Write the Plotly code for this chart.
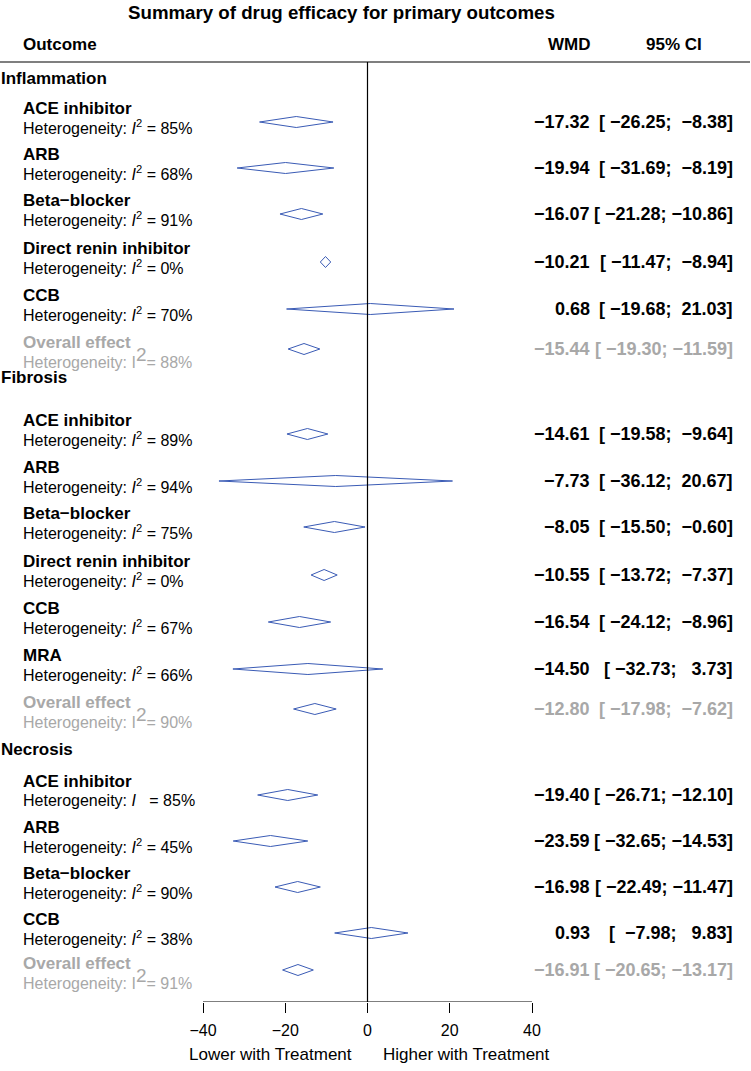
import plotly.graph_objects as go

# data
groups = ["Inflammation", "Fibrosis", "Necrosis"]
treatments = ["ACE inhibitor", "ARB", "Beta\u2212blocker", "Direct renin inhibitor", "CCB", "Overall effect",
              "ACE inhibitor", "ARB", "Beta\u2212blocker", "Direct renin inhibitor", "CCB", "MRA", "Overall effect",
              "ACE inhibitor", "ARB", "Beta\u2212blocker", "CCB", "Overall effect"]
is_overall = [False, False, False, False, False, True,
              False, False, False, False, False, False, True,
              False, False, False, False, True]
wmd = [-17.32, -19.94, -16.07, -10.21, 0.68, -15.44,
       -14.61, -7.73, -8.05, -10.55, -16.54, -14.50, -12.80,
       -19.40, -23.59, -16.98, 0.93, -16.91]
ci_lower = [-26.25, -31.69, -21.28, -11.47, -19.68, -19.30,
            -19.58, -36.12, -15.50, -13.72, -24.12, -32.73, -17.98,
            -26.71, -32.65, -22.49, -7.98, -20.65]
ci_upper = [-8.38, -8.19, -10.86, -8.94, 21.03, -11.59,
            -9.64, 20.67, -0.60, -7.37, -8.96, 3.73, -7.62,
            -12.10, -14.53, -11.47, 9.83, -13.17]
i2 = [85, 68, 91, 0, 70, 88,
      89, 94, 75, 0, 67, 66, 90,
      85, 45, 90, 38, 91]
x_ticks = [-40, -20, 0, 20, 40]

# layout (pixel rows of the page)
W, H = 751, 1071
X0_PX, X1_PX = 203, 532      # where -40 and 40 sit
AXIS_PX = 1002
group_y = [78, 377, 749]
row_y = [122, 168, 214, 262, 309, 349,
         434, 481, 527, 575, 622, 669, 709,
         795, 841, 887, 933, 970]
HALF_H = 5.5

FONT = "Liberation Sans"
BLUE = "#3a5bb5"
GREY = "#a8a8a8"
BLACK = "#000000"

# x range spanning the whole page width, so -40..40 land on X0_PX..X1_PX
unit = (X1_PX - X0_PX) / 80.0
x_range = [-40 - X0_PX / unit, 40 + (W - X1_PX) / unit]


def px(p):
    return p / W


def num(v):
    return f"{v:.2f}".replace("-", "\u2212")


def ci_text(lo, hi):
    s = "[" + f"{lo:.2f}".rjust(7) + "; " + f"{hi:.2f}".rjust(6) + "]"
    return s.replace("-", "\u2212").replace(" ", "\u00a0")


fig = go.Figure()

# diamonds
xs, ys = [], []
for est, lo, hi, y in zip(wmd, ci_lower, ci_upper, row_y):
    xs += [lo, est, hi, est, lo, None]
    ys += [y, y - HALF_H, y, y + HALF_H, y, None]
fig.add_trace(go.Scatter(x=xs, y=ys, mode="lines", line=dict(color=BLUE, width=1),
                         hoverinfo="skip", showlegend=False))

annotations = []


def text(x, y, s, size, color=BLACK, anchor="left", bold=False, yref="y"):
    if bold:
        s = "<b>" + s + "</b>"
    annotations.append(dict(x=x, y=y, xref="paper", yref=yref, text=s, showarrow=False,
                            xanchor=anchor, yanchor="middle", borderpad=0,
                            font=dict(family=FONT, size=size, color=color)))


text(px(341), 12, "Summary of drug efficacy for primary outcomes", 18.7, anchor="center", bold=True)
text(px(22), 44, "Outcome", 17, bold=True)
text(px(569), 44, "WMD", 17, anchor="center", bold=True)
text(px(674), 44, "95% CI", 17, anchor="center", bold=True)

for g, y in zip(groups, group_y):
    text(px(0), y, g, 17, bold=True)

for k in range(len(treatments)):
    y = row_y[k]
    col = GREY if is_overall[k] else BLACK
    if is_overall[k]:
        # summary rows sit a little lower relative to their diamond
        text(px(22), y - 7, treatments[k], 17, color=col, bold=True)
        het = f"Heterogeneity: I<sup><span style='font-size:19px'>2</span></sup>= {i2[k]}%"
        text(px(22), y + 8, het, 16, color=col)
    else:
        text(px(22), y - 14, treatments[k], 17, color=col, bold=True)
        if k == 13:
            het = f"Heterogeneity: <i>I</i>\u00a0\u00a0\u00a0= {i2[k]}%"
        else:
            het = f"Heterogeneity: <i>I</i><sup>2</sup> = {i2[k]}%"
        text(px(22), y + 5, het, 16, color=col)
    text(px(591), y, num(wmd[k]), 18, color=col, anchor="right", bold=True)
    text(px(734), y, ci_text(ci_lower[k], ci_upper[k]), 18, color=col, anchor="right", bold=True)

text(px(353), 1 - 1054 / AXIS_PX, "Lower with Treatment", 17, anchor="right", yref="paper")
text(px(382), 1 - 1054 / AXIS_PX, "Higher with Treatment", 17, anchor="left", yref="paper")

shapes = [
    dict(type="line", xref="paper", yref="y", x0=0, x1=px(750), y0=62, y1=62,
         line=dict(color=BLACK, width=1.2)),
    dict(type="line", xref="x", yref="y", x0=0, x1=0, y0=62, y1=AXIS_PX,
         line=dict(color=BLACK, width=1.2)),
    # axis line only across the tick span, as in R
    dict(type="line", xref="x", yref="y", x0=x_ticks[0], x1=x_ticks[-1], y0=AXIS_PX, y1=AXIS_PX,
         line=dict(color=BLACK, width=1.2)),
]

fig.update_layout(
    width=W, height=H,
    margin=dict(l=0, r=0, t=0, b=H - AXIS_PX, pad=0),
    paper_bgcolor="white", plot_bgcolor="white",
    annotations=annotations, shapes=shapes,
    xaxis=dict(domain=[0, 1], range=x_range, tickvals=x_ticks,
               ticktext=[str(t).replace("-", "\u2212") for t in x_ticks],
               showline=False, ticks="outside", ticklen=10,
               tickcolor=BLACK, tickwidth=1.2, showgrid=False, zeroline=False,
               ticklabelstandoff=4, tickfont=dict(family=FONT, size=16, color=BLACK),
               fixedrange=True),
    yaxis=dict(range=[AXIS_PX, 0], visible=False, showgrid=False, zeroline=False, fixedrange=True),
    font=dict(family=FONT),
)

fig.write_html("out.html", config={"displayModeBar": False},
               post_script="document.body.style.margin='0px';")
